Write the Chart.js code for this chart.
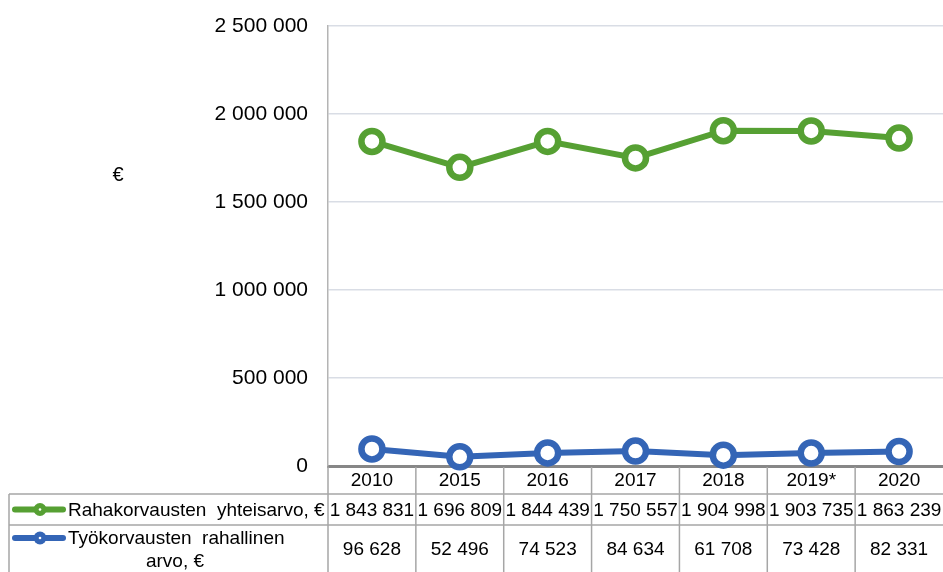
<!DOCTYPE html>
<html>
<head>
<meta charset="utf-8">
<script src="https://cdn.jsdelivr.net/npm/chart.js@4"></script>
<style>
  html, body { margin: 0; padding: 0; background: #ffffff; }
  #wrap { width: 943px; height: 572px; position: relative; }
</style>
</head>
<body>
<div id="wrap"><canvas id="c" width="943" height="572"></canvas></div>
<script>
// ---- data ----
const categories = ['2010', '2015', '2016', '2017', '2018', '2019*', '2020'];
const rahakorvaukset = [1843831, 1696809, 1844439, 1750557, 1904998, 1903735, 1863239];
const tyokorvaukset = [96628, 52496, 74523, 84634, 61708, 73428, 82331];
const seriesLabels = ['Rahakorvausten  yhteisarvo, €', 'Työkorvausten  rahallinen|arvo, €'];
const yTickValues = [0, 500000, 1000000, 1500000, 2000000, 2500000];
const yTitle = '€';

const GREEN = '#56A033';
const BLUE = '#3465B6';
const FONT = '"Liberation Sans", Arial, sans-serif';

function fmt(n) { return String(n).replace(/\B(?=(\d{3})+(?!\d))/g, ' '); }

const tablePlugin = {
  id: 'dataTable',
  afterDraw(chart) {
    const ctx = chart.ctx;
    const x = chart.scales.x;
    const area = chart.chartArea;
    const n = categories.length;
    const colW = (area.right - area.left) / n;
    const top = area.bottom;
    const row1 = top + 28;
    const row2 = top + 59;
    const bottom = chart.height + 2;
    const leftEdge = 9;
    ctx.save();
    ctx.strokeStyle = '#a6a6a6';
    ctx.lineWidth = 1.5;
    [row1, row2].forEach(yy => {
      ctx.beginPath(); ctx.moveTo(leftEdge, yy); ctx.lineTo(area.right, yy); ctx.stroke();
    });
    ctx.beginPath(); ctx.moveTo(leftEdge, row1); ctx.lineTo(leftEdge, bottom); ctx.stroke();
    for (let i = 0; i < n; i++) {
      const cx = x.getPixelForValue(i) - colW / 2;
      ctx.beginPath(); ctx.moveTo(cx, top + 1); ctx.lineTo(cx, bottom); ctx.stroke();
    }
    ctx.fillStyle = '#000';
    ctx.font = '19px ' + FONT;
    ctx.textAlign = 'center';
    ctx.textBaseline = 'middle';
    const rowsData = [rahakorvaukset, tyokorvaukset];
    const rowCenters = [(row1 + row2) / 2 + 1, row2 + 25];
    rowsData.forEach((arr, r) => {
      arr.forEach((v, i) => {
        ctx.fillText(fmt(v), x.getPixelForValue(i), rowCenters[r]);
      });
    });
    const colors = [GREEN, BLUE];
    const keyY = [(row1 + row2) / 2, row2 + 13];
    colors.forEach((c, r) => {
      const ky = keyY[r];
      ctx.strokeStyle = c;
      ctx.lineWidth = 6;
      ctx.lineCap = 'round';
      ctx.beginPath(); ctx.moveTo(15, ky); ctx.lineTo(63, ky); ctx.stroke();
      ctx.beginPath(); ctx.arc(40, ky, 6.5, 0, Math.PI * 2);
      ctx.fillStyle = c; ctx.fill();
      ctx.beginPath(); ctx.arc(40, ky, 1.3, 0, Math.PI * 2);
      ctx.fillStyle = '#fff'; ctx.fill();
    });
    ctx.fillStyle = '#000';
    ctx.textAlign = 'left';
    ctx.fillText(seriesLabels[0], 68, keyY[0] + 1);
    const parts = seriesLabels[1].split('|');
    ctx.fillText(parts[0], 68, keyY[1] + 1);
    ctx.textAlign = 'center';
    ctx.fillText(parts[1], 175, keyY[1] + 24);
    ctx.font = '20px ' + FONT;
    ctx.fillText(yTitle, 118, 175);
    ctx.restore();
  }
};

new Chart(document.getElementById('c'), {
  type: 'line',
  data: {
    labels: categories,
    datasets: [
      {
        label: seriesLabels[0],
        data: rahakorvaukset,
        borderColor: GREEN,
        backgroundColor: '#ffffff',
        borderWidth: 6,
        pointRadius: 10.5,
        pointHoverRadius: 10.5,
        pointBorderWidth: 6.5,
        pointBackgroundColor: '#ffffff',
        pointBorderColor: GREEN,
        tension: 0,
        clip: false
      },
      {
        label: seriesLabels[1].replace('|', ' '),
        data: tyokorvaukset,
        borderColor: BLUE,
        backgroundColor: '#ffffff',
        borderWidth: 6,
        pointRadius: 10.5,
        pointHoverRadius: 10.5,
        pointBorderWidth: 6.5,
        pointBackgroundColor: '#ffffff',
        pointBorderColor: BLUE,
        tension: 0,
        clip: false
      }
    ]
  },
  options: {
    responsive: false,
    animation: false,
    events: [],
    layout: { autoPadding: false, padding: { top: 26, left: 0, right: 0, bottom: 0 } },
    plugins: { legend: { display: false }, tooltip: { enabled: false }, title: { display: false } },
    scales: {
      x: {
        offset: true,
        grid: { display: false, drawTicks: false },
        border: { display: true, color: '#878787', width: 3 },
        ticks: {
          color: '#000',
          font: { family: FONT, size: 19 },
          padding: 3,
          maxRotation: 0,
          autoSkip: false
        },
        afterFit(s) { s.height = 106; s.paddingLeft = 0; s.paddingRight = 0; }
      },
      y: {
        min: 0,
        max: 2500000,
        afterBuildTicks(s) { s.ticks = yTickValues.map(v => ({ value: v })); },
        grid: { color: '#d9dde5', lineWidth: 1.5, drawTicks: false },
        border: { display: true, color: '#b4b4b4', width: 1.5 },
        ticks: {
          color: '#000',
          font: { family: FONT, size: 21 },
          padding: 20,
          callback: v => fmt(v)
        },
        afterFit(s) { s.width = 328; s.paddingTop = 0; s.paddingBottom = 0; }
      }
    }
  },
  plugins: [tablePlugin]
});
</script>
</body>
</html>
